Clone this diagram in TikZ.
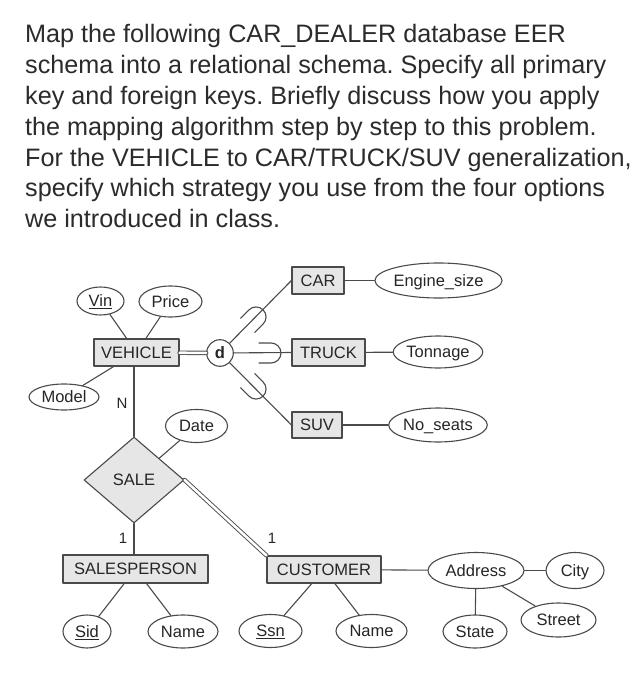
\documentclass[tikz,border=0pt]{standalone}
\usepackage{fontspec}
\setmainfont{Liberation Sans}
\usepackage{xcolor}
\usepackage{tikz}
\usetikzlibrary{shapes.geometric,calc}
\definecolor{erline}{HTML}{4A4A4A}
\definecolor{erfill}{HTML}{E6E6E6}
\definecolor{ertext}{HTML}{262626}
\definecolor{qtext}{HTML}{2B2B2B}
\tikzset{
every picture/.style={line cap=round,line join=round},
er font/.style={font=\fontsize{16.5}{18}\selectfont, text=ertext, text height=11.9pt, text depth=0pt},
er entity/.style={
  er font,
  draw=erline,
  fill=erfill,
  line width=1.1pt,
  inner sep=0pt
},
er attr/.style={
  er font,
  ellipse,
  draw=erline,
  fill=white,
  line width=1.1pt,
  inner sep=0pt
},
er rel/.style={
  er font,
  diamond,
  aspect=1.16,
  draw=erline,
  fill=erfill,
  line width=1.1pt,
  inner sep=0pt
},
er disjoint/.style={
  er font,
  circle,
  draw=erline,
  fill=white,
  line width=1.1pt,
  inner sep=0pt,
  minimum size=26.6pt,
  font=\fontsize{16.5}{18}\selectfont\bfseries
},
er link/.style={draw=erline, line width=1.1pt},
er total/.style={draw=erline, line width=0.9pt, double=white, double distance=2.6pt},
card label/.style={font=\fontsize{15}{17}\selectfont, text=ertext}
}
\begin{document}
\begin{tikzpicture}[x=1pt,y=1pt]
\fill[white] (0,0) rectangle (636,-700);
\useasboundingbox (0,0) rectangle (636,-700);
% question text
\node[anchor=north west, inner sep=0pt, align=left, text=qtext,
  font=\fontsize{25.2}{30.8}\selectfont\frenchspacing] (question) at (25,-24.5)
  {Map the following CAR\_DEALER database EER\\
   schema into a relational schema. Specify all primary\\
   key and foreign keys. Briefly discuss how you apply\\
   the mapping algorithm step by step to this problem.\\
   For the VEHICLE to CAR/TRUCK/SUV generalization,\\
   specify which strategy you use from the four options\\
   we introduced in class.};
% entities
\node[er entity, minimum width=85pt, minimum height=27pt] (vehicle) at (136.5,-352.5) {VEHICLE};
\node[er entity, minimum width=52pt, minimum height=27pt] (car) at (318,-280.5) {CAR};
\node[er entity, minimum width=73pt, minimum height=27pt] (truck) at (328.5,-352.5) {TRUCK};
\node[er entity, minimum width=50pt, minimum height=26pt] (suv) at (317,-425) {SUV};
\node[er entity, minimum width=145pt, minimum height=28pt] (salesperson) at (135.5,-569) {SALESPERSON};
\node[er entity, minimum width=114pt, minimum height=27pt] (customer) at (324,-569.5) {CUSTOMER};
\node[er rel, minimum width=100pt, minimum height=86pt] (sale) at (134,-480) {SALE};
\node[er disjoint] (d) at (220,-353) {d};
% attributes
\node[er attr, minimum width=47pt, minimum height=28pt] (vin) at (100.5,-301) {\underline{Vin}};
\node[er attr, minimum width=63pt, minimum height=31pt] (price) at (170.5,-301.5) {Price};
\node[er attr, minimum width=70pt, minimum height=26pt] (model) at (64,-397) {Model};
\node[er attr, minimum width=62pt, minimum height=33pt] (date) at (196.5,-426) {Date};
\node[er attr, minimum width=109pt, minimum height=35pt] (engine) at (438.5,-280.5) {Engine\_size};
\node[er attr, minimum width=84pt, minimum height=32pt] (tonnage) at (438,-352) {Tonnage};
\node[er attr, minimum width=98pt, minimum height=34pt] (seats) at (438,-425) {No\_seats};
\node[er attr, minimum width=48pt, minimum height=33pt] (sid) at (87,-631.5) {\underline{Sid}};
\node[er attr, minimum width=70pt, minimum height=33pt] (spname) at (183,-631.5) {Name};
\node[er attr, minimum width=63pt, minimum height=33pt] (ssn) at (270.5,-631) {\underline{Ssn}};
\node[er attr, minimum width=71pt, minimum height=33pt] (cname) at (371.5,-631) {Name};
\node[er attr, minimum width=96pt, minimum height=36pt] (address) at (476,-570.5) {Address};
\node[er attr, minimum width=58pt, minimum height=36pt] (city) at (575,-570.5) {City};
\node[er attr, minimum width=75pt, minimum height=34pt] (street) at (558.5,-620) {Street};
\node[er attr, minimum width=64pt, minimum height=33pt] (state) at (475,-631.5) {State};
% cardinalities
\node[card label] (cardn) at (122,-403) {N};
\node[card label] (cardsp) at (123,-538) {1};
\node[card label] (cardcu) at (272,-538) {1};
% attribute links
\draw[er link] (vin) -- (vehicle);
\draw[er link] (price) -- (vehicle);
\draw[er link] (model) -- (vehicle);
\draw[er link] (date) -- (sale);
\draw[er link] (car) -- (engine);
\draw[er link] (truck) -- (tonnage);
\draw[er link] (suv) -- (seats);
\draw[er link] (sid) -- (salesperson);
\draw[er link] (spname) -- (salesperson);
\draw[er link] (ssn) -- (customer);
\draw[er link] (cname) -- (customer);
\draw[er link] (customer) -- (address);
\draw[er link] (address) -- (city);
\draw[er link] (address) -- (street);
\draw[er link] (address) -- (state);
% relationship links
\draw[er link] (sale.north) -- (sale.north |- vehicle.south);
\draw[er link] (sale.south) -- (sale.south |- salesperson.north);
\draw[er total] (sale.east) -- (customer.north west);
% specialization
\draw[er total] (vehicle) -- (d);
\foreach \sub/\ang in {car/45, truck/0, suv/-45} {
  \draw[er link] (d) -- (\sub.west);
  \begin{scope}[shift={(d.center)}, rotate=\ang]
    \draw[er link] (39,10) -- (51,10) arc[start angle=90, end angle=-90, radius=10] -- (39,-10);
  \end{scope}
}
\end{tikzpicture}
\end{document}
